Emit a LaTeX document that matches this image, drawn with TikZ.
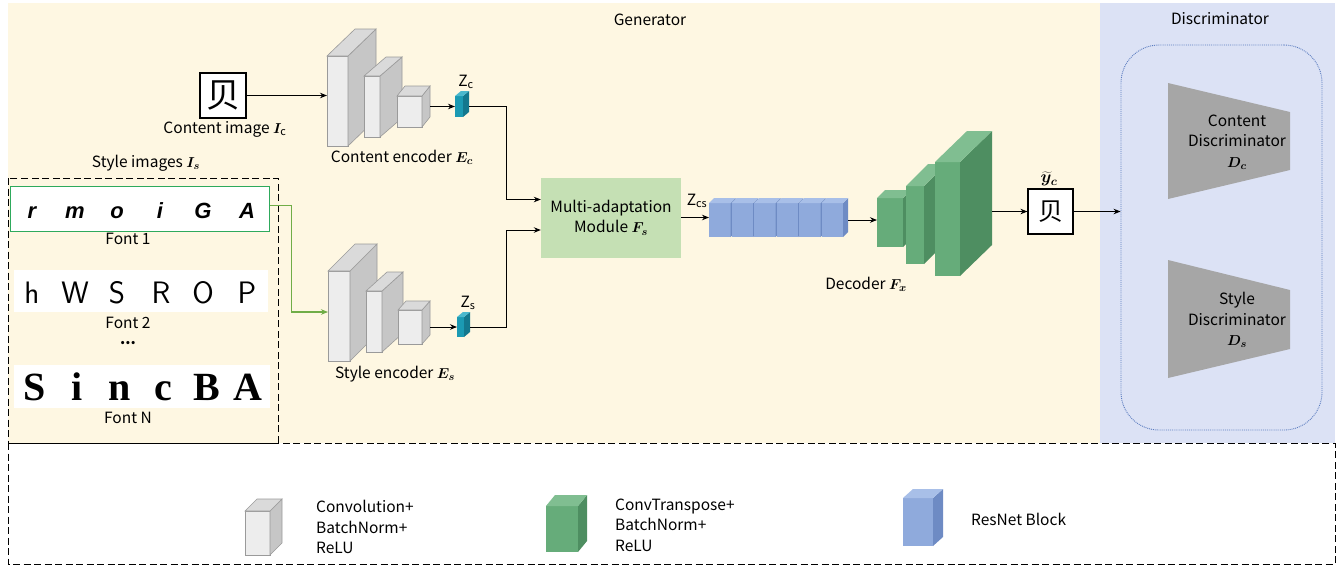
\documentclass[tikz,border=0pt]{standalone}
\usepackage{fontspec}
\setmainfont{Noto Sans CJK SC}
\newfontfamily\cjk{Noto Sans CJK SC}
\newfontfamily\handfont{Liberation Sans}
\newfontfamily\boldserif{Liberation Serif}
\usepackage{bm}
\usetikzlibrary{arrows.meta,calc}

\definecolor{cream}{HTML}{FEF7E2}
\definecolor{discbg}{HTML}{DCE2F5}
\definecolor{gfr}{HTML}{EDEDED}
\definecolor{gsd}{HTML}{C6C6C6}
\definecolor{gtp}{HTML}{DADADA}
\definecolor{gbd}{HTML}{9A9A9A}
\definecolor{bfr}{HTML}{8FAADC}
\definecolor{bsd}{HTML}{6E8BC4}
\definecolor{btp}{HTML}{A8BFE8}
\definecolor{nfr}{HTML}{66AC7A}
\definecolor{nsd}{HTML}{4E8E61}
\definecolor{ntp}{HTML}{80BE91}
\definecolor{tfr}{HTML}{1B9AB3}
\definecolor{tsd}{HTML}{13788E}
\definecolor{ttp}{HTML}{4AB8CD}
\definecolor{modfill}{HTML}{C5E0B4}
\definecolor{trapc}{HTML}{A6A6A6}
\definecolor{dotc}{HTML}{5B7CC0}
\definecolor{fontbox}{HTML}{2EAA5C}
\definecolor{greenarr}{HTML}{70AD47}

% a box-shaped layer: front face is a node, side and top faces are filled paths
% #1 name, #2 #3 top-left of front face, #4 width, #5 height, #6 #7 depth, #8 colour set
\newcommand\mycuboid[8]{%
  \node[#8front, inner sep=0pt, outer sep=0pt, minimum width=#4pt, minimum height=#5pt,
        anchor=north west] (#1) at (#2,#3) {};
  \path[#8side] (#1.north east) -- ++(#6,-#7) -- ++(0,#5) -- (#1.south east) -- cycle;
  \path[#8top] (#1.north west) -- ++(#6,-#7) -- ++(#4,0) -- (#1.north east) -- cycle;
}

\begin{document}
\begin{tikzpicture}[x=1pt,y=-1pt,
  lbl/.style={font=\fontsize{15.5}{18}\selectfont, inner sep=0pt, align=center},
  multi/.style={font=\fontsize{15.5}{20.5}\selectfont},
  arr/.style={-{Stealth[length=7pt,width=5.5pt]}, line width=1pt},
  gfront/.style={fill=gfr, draw=gbd, line width=0.6pt},
  gside/.style={fill=gsd, draw=gbd, line width=0.6pt},
  gtop/.style={fill=gtp, draw=gbd, line width=0.6pt},
  bfront/.style={fill=bfr},
  bside/.style={fill=bsd},
  btop/.style={fill=btp},
  nfront/.style={fill=nfr},
  nside/.style={fill=nsd},
  ntop/.style={fill=ntp},
  tfront/.style={fill=tfr},
  tside/.style={fill=tsd},
  ttop/.style={fill=ttp},
  imgbox/.style={draw=black, line width=1.2pt, fill=white, inner sep=0pt,
                 minimum width=45pt, minimum height=45pt},
  trap/.style={fill=trapc},
  boxdash/.style={dashed, dash pattern=on 7pt off 3.5pt, line width=1pt},
  letterA/.style={font=\handfont\bfseries\itshape\fontsize{22}{22}\selectfont, inner sep=0pt, anchor=base},
  letterB/.style={font=\sffamily\fontsize{31}{31}\selectfont, inner sep=0pt, anchor=base},
  letterC/.style={font=\boldserif\bfseries\fontsize{40}{40}\selectfont, inner sep=0pt, anchor=base},
]
\useasboundingbox (0,0) rectangle (1344,566);

% backgrounds of the two parts
\fill[cream] (8,3) rectangle (1100,443);
\fill[discbg] (1100,3) rectangle (1335,443);

% dashed frames
\draw[boxdash] (8,443) rectangle (1335,564);
\draw[boxdash] (8,178) rectangle (278,443);

% titles
\node[lbl] (gentitle) at (650,20) {Generator};
\node[lbl] (disctitle) at (1220,19) {Discriminator};

% ---------------- style images ----------------
\node[lbl] (stylelbl) at (146,163) {Style images $\bm{I_s}$};
\node[draw=fontbox, line width=1.3pt, fill=white, minimum width=259pt, minimum height=45pt,
      inner sep=0pt, anchor=north west] (f1) at (10,186) {};
\fill[white] (14,270) rectangle (268,312);
\fill[white] (14,365) rectangle (270,408);
\foreach \ch/\px [count=\k] in {r/32,m/75,o/117,i/160,G/203,A/247}
  {\node[letterA] (fa\k) at (\px,218) {\ch};}
\foreach \ch/\px [count=\k] in {h/32,W/75,S/117,R/161,O/203,P/247}
  {\node[letterB] (fb\k) at (\px,303) {\ch};}
\foreach \ch/\px [count=\k] in {S/35,i/77,n/120,c/163,B/207,A/248}
  {\node[letterC] (fc\k) at (\px,400) {\ch};}
\node[lbl] (f1lbl) at (128,239) {Font 1};
\node[lbl] (f2lbl) at (128,323) {Font 2};
\node[lbl, font=\bfseries\fontsize{15}{17}\selectfont] (fdots) at (128,343) {...};
\node[lbl] (fnlbl) at (128,418) {Font N};

% ---------------- content branch ----------------
\node[imgbox, minimum width=46pt, minimum height=45pt] (cimg) at (223,95.5)
  {\cjk\fontsize{34}{34}\selectfont 贝};
\node[lbl] (cimglbl) at (225,129) {Content image $\bm{I}_{\mathrm{c}}$};

\mycuboid{cbig}{327}{56}{21}{90}{28}{27}{g}
\mycuboid{cmid}{364}{76}{16}{61}{22}{19}{g}
\mycuboid{csmall}{397}{96}{25}{31}{8}{10}{g}
\mycuboid{zc}{455}{96}{8}{21}{6}{5}{t}
\node[lbl] (cenclbl) at (402,157) {Content encoder $\bm{E_c}$};
\node[lbl] (zclbl) at (466,82) {Z\textsubscript{c}};

% ---------------- style branch ----------------
\mycuboid{sbig}{328}{271}{22}{90}{27}{27}{g}
\mycuboid{smid}{366}{291}{16}{61}{21}{19}{g}
\mycuboid{ssmall}{398}{310}{24}{34}{8}{9}{g}
\mycuboid{zs}{457}{317}{7}{20}{6}{5}{t}
\node[lbl] (senclbl) at (395,374) {Style encoder $\bm{E_s}$};
\node[lbl] (zslbl) at (468,303) {Z\textsubscript{s}};

% ---------------- fusion and decoding ----------------
\node[fill=modfill, minimum width=140pt, minimum height=80pt, inner sep=0pt,
      lbl, multi] (mam) at (611,217.5) {Multi-adaptation\\Module $\bm{F_s}$};
\node[lbl] (zcslbl) at (697,201) {Z\textsubscript{cs}};

\foreach \i in {0,...,5}{
  \pgfmathsetmacro{\rx}{709+22.5*\i}
  \mycuboid{r\i}{\rx}{203}{21.5}{34}{5}{5}{b}
}

\mycuboid{d1}{877}{198}{26}{49}{8}{8}{n}
\mycuboid{d2}{906}{186}{18}{78}{22}{22}{n}
\mycuboid{d3}{935}{162}{25}{114}{32}{31}{n}
\node[lbl] (declbl) at (866,284) {Decoder $\bm{F_x}$};

\node[imgbox] (out) at (1050.5,211.5)
  {\cjk\fontsize{25}{25}\selectfont 贝};
\node[lbl, font=\fontsize{18}{18}\selectfont, anchor=south] (outlbl) at (1049,186)
  {$\widetilde{\bm{y}}_{\bm{c}}$};

% ---------------- discriminators ----------------
\node[draw=dotc, densely dotted, line width=0.9pt, rounded corners=38pt,
      minimum width=201pt, minimum height=385pt, inner sep=0pt] (disc) at (1221.5,237.5) {};
\fill[trap] (1168,83) -- (1290,112) -- (1290,170) -- (1168,199) -- cycle;
\fill[trap] (1168,260) -- (1290,290) -- (1290,349) -- (1168,378) -- cycle;
\node[lbl, multi] (dc) at (1237,142)
  {Content\\Discriminator\\$\bm{D_c}$};
\node[lbl, multi] (ds) at (1237,320)
  {Style\\Discriminator\\$\bm{D_s}$};

% ---------------- connectors ----------------
\coordinate (jx) at (506,0);
\coordinate (csout) at ([xshift=8pt]csmall.east);
\coordinate (ssout) at ([xshift=8pt]ssmall.east);
\coordinate (zcout) at ([xshift=6pt]zc.east);
\coordinate (zsout) at ([xshift=6pt]zs.east);
\coordinate (mamin1) at ([yshift=18pt]mam.west);
\coordinate (mamin2) at ([yshift=-12.5pt]mam.west);
\coordinate (r5out) at ([xshift=5pt]r5.east);
\coordinate (d3out) at ([xshift=32pt]d3.east);
\coordinate (f1out) at ([yshift=4pt]f1.east);
\coordinate (sbigin) at ([yshift=4pt]sbig.west);

\draw[arr] (cimg.east) -- (cimg.east -| cbig.west);
\draw[arr] (csout |- zc.west) -- (zc.west);
\draw[arr] (ssout |- zs.west) -- (zs.west);
\draw[arr] (zcout) -- (zcout -| jx) |- (mamin1);
\draw[arr] (zsout) -- (zsout -| jx) |- (mamin2);
\draw[arr, draw=greenarr, line width=1.2pt] (f1out) -- ++(21,0) |- (sbigin);
\draw[arr] (mam.east) -- (mam.east -| r0.west);
\draw[arr] (r5out) -- (r5out -| d1.west);
\draw[arr] (out.west -| d3out) -- (out.west);
\draw[arr] (out.east) -- (out.east -| disc.west);

% ---------------- legend ----------------
\mycuboid{lgconv}{245}{511}{25}{44}{12}{12}{g}
\node[lbl, multi, align=left, anchor=west] (lgconvtxt) at (316,527)
  {Convolution+\\BatchNorm+\\ReLU};
\mycuboid{lgdeconv}{546}{506}{32}{46}{9}{11}{n}
\node[lbl, multi, align=left, anchor=west] (lgdeconvtxt) at (615,525)
  {ConvTranspose+\\BatchNorm+\\ReLU};
\mycuboid{lgres}{903}{498}{30}{48}{10}{9}{b}
\node[lbl, anchor=west] (lgrestxt) at (971,519) {ResNet Block};

\end{tikzpicture}
\end{document}
